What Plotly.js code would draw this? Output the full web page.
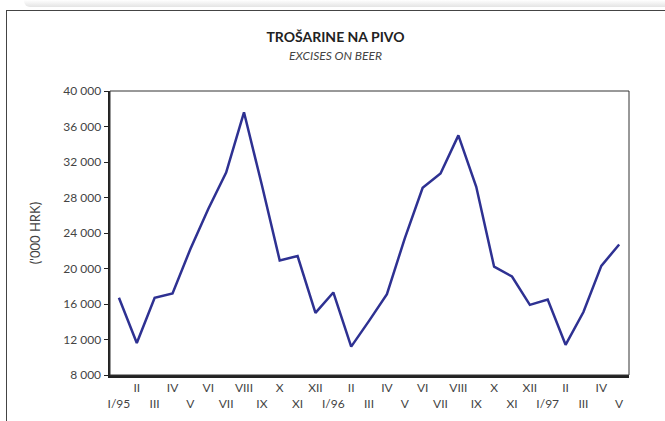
<!DOCTYPE html>
<html>
<head>
<meta charset="utf-8">
<script src="https://cdn.plot.ly/plotly-3.0.1.min.js"></script>
<style>
  body { margin: 0; background: #fff; }
  #bar { position: absolute; left: 24px; top: 0; width: 660px; height: 7px;
         background: linear-gradient(#fff, #e4e4e4); border-radius: 0 0 0 6px; }
  #frame { position: absolute; left: 6px; top: 10px; width: 659px; height: 411px;
           border-left: 1.5px solid #444; border-top: 1.5px solid #444; }
  #chart { width: 657px; height: 409px; }
</style>
</head>
<body>
<div id="bar"></div>
<div id="frame"><div id="chart"></div></div>
<script>
var months = ['I/95', 'II', 'III', 'IV', 'V', 'VI', 'VII', 'VIII', 'IX', 'X', 'XI', 'XII',
              'I/96', 'II', 'III', 'IV', 'V', 'VI', 'VII', 'VIII', 'IX', 'X', 'XI', 'XII',
              'I/97', 'II', 'III', 'IV', 'V'];
var excises = [16700, 11600, 16700, 17200, 22200, 26700, 30800, 37600, 29400, 20900, 21400, 15000,
               17300, 11200, 14100, 17100, 23400, 29100, 30700, 35000, 29200, 20200, 19100, 15900,
               16500, 11400, 15100, 20300, 22700];
var yTicks = [8000, 12000, 16000, 20000, 24000, 28000, 32000, 36000, 40000];

var xIdx = months.map(function (m, i) { return i; });
// alternate the month labels on two rows
var labels = months.map(function (m, i) { return i % 2 ? m : ' <br>' + m; });

var font = 'Lato, "Open Sans", sans-serif';

var data = [{
    x: xIdx, y: excises, mode: 'lines',
    line: { color: '#2e3192', width: 2.5 },
    hoverinfo: 'skip'
}];

var layout = {
    width: 657, height: 409,
    margin: { l: 103, r: 35, t: 80, b: 45 },
    paper_bgcolor: '#fff', plot_bgcolor: '#fff',
    separators: '. ',
    showlegend: false,
    font: { family: font, color: '#333', size: 12 },
    title: {
        text: '<b>TROŠARINE NA PIVO</b><br><span style="font-size:12px;font-style:italic;color:#444">EXCISES ON BEER</span>',
        font: { family: font, size: 14, color: '#222' },
        x: 0.5, xanchor: 'center', y: 0.925, yanchor: 'top'
    },
    xaxis: {
        range: [-0.5, 28.55],
        tickvals: xIdx, ticktext: labels, tickangle: 0,
        showgrid: false, zeroline: false,
        showline: true, linecolor: '#222', linewidth: 2.5,
        ticks: '', tickfont: { size: 12, color: '#444' },
        fixedrange: true
    },
    yaxis: {
        range: [8000, 40000],
        tickvals: yTicks, tickformat: ',d',
        showgrid: false, zeroline: false,
        showline: true, linecolor: '#222', linewidth: 2.5,
        ticks: 'outside', ticklen: 4, tickwidth: 1, tickcolor: '#222',
        tickfont: { size: 12, color: '#444' },
        title: { text: "('000 HRK)", font: { size: 13, color: '#444' }, standoff: 20 },
        fixedrange: true
    },
    shapes: [{
        type: 'rect', xref: 'paper', yref: 'paper', x0: 0, x1: 1, y0: 0, y1: 1,
        line: { color: '#333', width: 1 }
    }]
};

Plotly.newPlot('chart', data, layout, { displayModeBar: false, staticPlot: true });
</script>
</body>
</html>
